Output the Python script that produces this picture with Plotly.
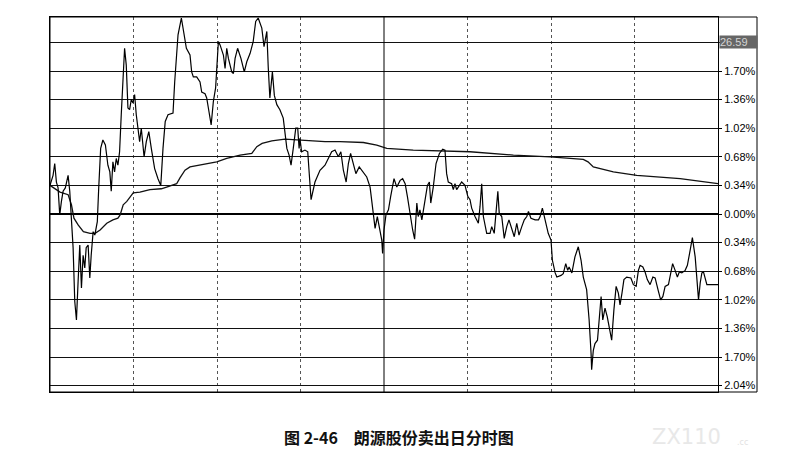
import plotly.graph_objects as go

# ---- data (minutes since open, % change vs prev close) ----
price_min = [0, 1.1, 1.7, 2.3, 2.9, 3.5, 4.1, 4.7, 5.5, 6.5, 7.1, 7.7, 8.3, 8.9, 9.5, 10.1, 10.7, 11.3, 11.9, 12.5,
             13.0, 13.7, 14.3, 14.8, 15.5, 16.1, 17.0, 17.5, 18.2, 19.0, 19.9, 20.8, 21.5, 22.0, 22.6, 23.2, 23.8,
             24.4, 25.0, 25.6, 26.2, 26.8, 27.4, 28.0, 28.6, 29.2, 29.8, 30.4, 31.0, 31.6, 32.2, 32.8, 33.8, 34.6,
             35.5, 36.4, 37.6, 38.8, 39.8, 40.6, 41.4, 42.4, 44.2, 44.8, 45.4, 46.0, 47.2, 48.1, 49.0,
             50.3, 50.9, 51.5, 52.7, 53.9, 54.5, 55.7, 56.3, 56.9, 57.9, 58.7, 59.5, 60.5, 61.1, 62.3, 62.9, 63.5,
             64.1, 65.3, 65.9, 66.5, 67.4, 68.6, 69.8, 70.7, 71.9, 73.0, 73.9, 74.8, 76.1, 76.9, 77.9, 78.4, 79.0,
             79.9, 80.6, 81.5, 82.6, 83.8, 84.4, 85.1, 85.9, 86.6, 87.4, 88.3, 89.0, 89.5, 89.8, 90.4, 91.6, 92.6,
             93.1, 93.8, 95.2, 97.0, 98.8, 100.0, 101.2, 102.4, 103.6, 104.5, 105.4, 106.4, 107.2, 108.0, 109.0,
             109.9, 111.1, 112.6, 113.8, 115.0, 115.6, 116.8, 117.6, 118.3, 119.2, 119.5, 120.0, 120.7, 121.6,
             122.4, 123.6, 124.6, 125.8, 126.7, 127.6, 128.4, 129.4, 130.3, 131.0, 131.8, 132.3, 132.9, 133.6,
             134.7, 135.6, 136.3, 136.8, 137.7, 138.7, 139.9, 141.1, 141.9, 142.5, 143.1, 144.3, 144.9, 145.5,
             146.1, 147.1, 147.9, 149.1, 150.1, 150.9, 151.5, 152.7, 153.9, 154.5, 155.1, 155.7, 156.9, 158.1,
             158.7, 159.6, 160.1, 160.9, 161.4, 162.3, 163.2, 164.1, 164.9, 165.9, 166.8, 167.7, 168.5, 169.5,
             170.4, 171.3, 171.9, 172.8, 174.3, 175.5, 176.1, 176.9, 177.9, 179.0, 180.0, 180.5, 181.5, 182.1,
             183.6, 184.4, 185.3, 186.0, 186.5, 187.5, 188.6, 189.8, 190.8, 191.6, 192.8, 193.7, 194.4, 194.6,
             195.2, 195.8, 196.7, 197.4, 198.0, 198.6, 199.4, 200.2, 201.0, 201.8, 202.6, 203.4, 204.2, 204.8,
             205.5, 206.2, 207.2, 208.7, 209.6, 210.6, 211.4, 212.0, 213.0, 213.8, 214.6, 215.6, 216.6, 217.4,
             218.6, 219.4, 220.2, 221.0, 222.2, 223.0, 223.7, 224.6, 225.4, 226.1, 227.0, 228.2, 229.0, 230.0,
             230.8, 231.8, 232.4, 233.0, 233.6, 234.2, 234.8, 235.4, 236.0, 240.0]
price_pct = [0.34, 0.46, 0.60, 0.38, 0.31, -0.01, 0.15, 0.27, 0.31, 0.46, 0.27, -0.01, -0.40, -1.04, -1.26, -0.80,
             -0.37, -0.88, -0.49, -0.64, -0.40, -0.37, -0.76, -0.49, -0.21, -0.25, -0.09, 0.31, 0.78, 0.88, 0.82,
             0.58, 0.50, 0.27, 0.62, 0.50, 0.66, 0.58, 0.74, 1.18, 1.57, 1.97, 1.77, 1.26, 1.24, 1.36, 1.32, 1.42,
             1.18, 1.02, 0.86, 1.02, 0.68, 0.86, 0.98, 0.78, 0.54, 0.42, 0.34, 0.78, 1.10, 1.18, 1.20, 1.57, 1.89,
             2.13, 2.33, 2.17, 1.97,
             1.89, 1.69, 1.63, 1.63, 1.57, 1.45, 1.43, 1.38, 1.26, 1.06, 1.34, 1.50, 2.05, 2.01, 1.89, 1.73, 1.97,
             1.85, 1.69, 1.67, 1.85, 1.97, 1.85, 1.69, 1.81, 1.91, 2.05, 2.29, 2.33, 2.21, 1.99, 2.17, 1.75, 1.38,
             1.69, 1.41, 1.30, 1.24, 1.14, 0.98, 0.78, 0.70, 0.58, 0.78, 1.02, 1.02, 0.78, 0.90, 0.74, 0.76, 0.74,
             0.50, 0.17, 0.38, 0.52, 0.58, 0.66, 0.74, 0.76, 0.68, 0.74, 0.52, 0.38, 0.60, 0.72, 0.60,
             0.48, 0.56, 0.50, 0.44, 0.32, 0.13, -0.17, -0.03, -0.15, -0.31, -0.47, -0.19, -0.01, 0.05,
             0.21, 0.42, 0.32, 0.40, 0.42, 0.36, 0.21, -0.03, -0.19, -0.30, 0.13, -0.03, 0.05, -0.07,
             0.13, 0.34, 0.38, 0.13, 0.32, 0.60, 0.72, 0.77, 0.76, 0.48, 0.38, 0.36, 0.29, 0.36,
             0.29, 0.34, 0.38, 0.34, 0.21, 0.17, 0.07, -0.03, -0.11, 0.09, 0.36, -0.03, -0.23, -0.23,
             -0.15, -0.23, 0.01, 0.27, 0.01, -0.03, -0.29, -0.15, -0.07, -0.19, -0.27, -0.11, -0.25, -0.15,
             -0.07, -0.03, 0.03, -0.05, -0.07, -0.07, -0.03, 0.07, -0.07, -0.23, -0.31, -0.55, -0.70, -0.75,
             -0.73, -0.71, -0.59, -0.67, -0.63, -0.70, -0.51, -0.39, -0.55, -0.75, -0.90, -1.26, -1.66, -1.85,
             -1.62, -1.54, -1.50, -1.26, -0.98, -1.26, -1.12, -1.22, -1.34, -1.50, -1.14, -0.86, -0.94, -1.08,
             -0.94, -0.78, -0.75, -0.76, -0.84, -0.86, -0.67, -0.61, -0.63, -0.69, -0.78, -0.84, -0.75, -0.76,
             -0.92, -1.02, -0.98, -0.86, -0.84, -0.70, -0.59, -0.67, -0.75, -0.69, -0.70, -0.67, -0.61, -0.43,
             -0.28, -0.51, -0.78, -1.02, -0.82, -0.70, -0.69, -0.76, -0.84, -0.84]

avg_min = [0, 3.6, 6.5, 7.7, 8.6, 10.1, 12.0, 14.4, 16.2, 18.0, 20.4, 22.6, 24.4, 25.2, 26.3, 27.6, 29.9, 32.3,
           35.9, 40.0, 41.9, 43.6, 45.5, 46.7, 48.5, 50.3, 53.9, 59.9, 63.5, 68.3, 72.5, 74.3, 76.2, 79.7, 84.4,
           90.4, 98.8, 104.2, 112.6, 117.4, 121.0, 130.5, 150.9, 166.5, 179.7, 191.6, 193.3, 195.2, 202.4, 210.8,
           226.4, 240.0]
avg_pct = [0.34, 0.26, 0.23, 0.11, -0.05, -0.13, -0.21, -0.23, -0.23, -0.19, -0.11, -0.07, -0.05, -0.01, 0.11,
           0.15, 0.25, 0.26, 0.29, 0.30, 0.32, 0.34, 0.36, 0.43, 0.52, 0.56, 0.58, 0.62, 0.66, 0.70, 0.72, 0.80,
           0.84, 0.87, 0.89, 0.88, 0.86, 0.86, 0.85, 0.82, 0.78, 0.76, 0.74, 0.70, 0.68, 0.65, 0.62, 0.56, 0.50,
           0.46, 0.42, 0.36]

tick_vals = [2.04, 1.70, 1.36, 1.02, 0.68, 0.34, 0.00, -0.34, -0.68, -1.02, -1.36, -1.70, -2.04]
tick_text = ["", "1.70%", "1.36%", "1.02%", "0.68%", "0.34%", "0.00%",
             "0.34%", "0.68%", "1.02%", "1.36%", "1.70%", "2.04%"]
top_price_label = "26.59"
top_price_pct = 2.04
time_grid = [30, 60, 90, 150, 180, 210]
midday = 120
title_text = "图 2-46　朗源股份卖出日分时图"
watermark = "ZX110"
watermark_tail = ".cc"

# ---- figure (page body has an 8px offset, so the figure is 8px smaller) ----
OFF = 8
W, H = 785 - OFF, 460 - OFF
L, T = 50 - OFF, 17 - OFF
plot_w = 668
plot_bottom = 392 - OFF
R = W - L - plot_w
B = H - plot_bottom
plot_h = plot_bottom - T


def px_x(x):
    return (x - OFF - L) / plot_w


def px_y(y):
    return (plot_bottom - (y - OFF)) / plot_h


fig = go.Figure()
fig.add_trace(go.Scatter(x=avg_min, y=avg_pct, mode="lines",
                         line=dict(color="#111111", width=1.3), hoverinfo="skip"))
fig.add_trace(go.Scatter(x=price_min, y=price_pct, mode="lines",
                         line=dict(color="#000000", width=1.2)))

fig.add_vline(x=midday, line=dict(color="#000000", width=1))

label_col_right = 1 + 39 / plot_w
fig.add_shape(type="rect", xref="paper", yref="paper", x0=0, x1=label_col_right, y0=0, y1=1,
              line=dict(color="#000000", width=1), layer="above")

fig.add_annotation(x=1, xref="paper", y=top_price_pct, yref="y", xanchor="left", yanchor="middle",
                   text=top_price_label, showarrow=False, align="left",
                   font=dict(family="Liberation Sans, Arial", size=11, color="#d4d4d4"),
                   bgcolor="#666666", width=37, height=12, borderpad=0, xshift=1)

fig.add_annotation(x=px_x(399), xref="paper", y=px_y(437), yref="paper",
                   text="<b>" + title_text + "</b>", showarrow=False,
                   xanchor="center", yanchor="middle",
                   font=dict(family="Noto Sans CJK SC", size=16, color="#111111"))
fig.add_annotation(x=px_x(686), xref="paper", y=px_y(437), yref="paper",
                   text=watermark, showarrow=False, xanchor="center", yanchor="middle",
                   font=dict(family="DejaVu Sans", size=21, color="#e8e8e8"))
fig.add_annotation(x=px_x(742), xref="paper", y=px_y(442), yref="paper",
                   text=watermark_tail, showarrow=False, xanchor="center", yanchor="middle",
                   font=dict(family="DejaVu Sans", size=8, color="#e2e2e2"))

fig.update_layout(
    width=W, height=H,
    margin=dict(l=L, r=R, t=T, b=B),
    paper_bgcolor="white", plot_bgcolor="white",
    showlegend=False,
    xaxis=dict(range=[0, 240], tickvals=time_grid, showticklabels=False,
               showgrid=True, griddash="dot", gridcolor="#555555", gridwidth=1,
               zeroline=False, showline=True, mirror=True, linecolor="#000000", linewidth=1,
               ticks=""),
    yaxis=dict(side="right", range=[-2.116, 2.342], tickvals=tick_vals, ticktext=tick_text,
               showgrid=True, gridcolor="#111111", gridwidth=1.3,
               zeroline=True, zerolinecolor="#000000", zerolinewidth=2.2,
               ticks="outside", ticklen=3, tickcolor="#000000",
               tickfont=dict(family="Liberation Sans, Arial", size=11, color="#000000"),
               showline=True, mirror=True, linecolor="#000000", linewidth=1),
)

fig.write_html("out.html")
